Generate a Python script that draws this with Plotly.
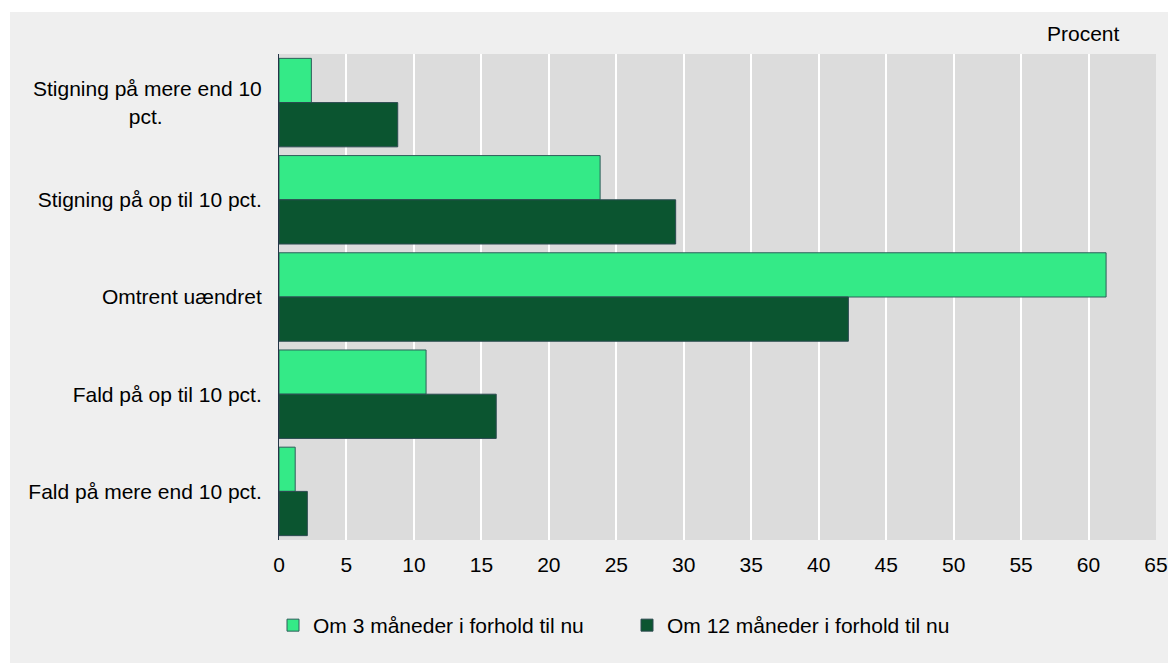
import plotly.graph_objects as go

categories = [
    "Stigning på mere end 10<br>pct." + "\u00a0" * 17,
    "Stigning på op til 10 pct.",
    "Omtrent uændret",
    "Fald på op til 10 pct.",
    "Fald på mere end 10 pct.",
]
series_3m_name = "Om 3 måneder i forhold til nu"
series_12m_name = "Om 12 måneder i forhold til nu"
values_3m = [2.4, 23.8, 61.3, 10.9, 1.2]
values_12m = [8.8, 29.4, 42.2, 16.1, 2.1]
x_ticks = list(range(0, 70, 5))

W, H = 1168, 663
L, T = 279, 54
R = W - 1156
B = H - 540
pw, ph = W - L - R, H - T - B

FONT = dict(family="Liberation Sans, Arial, sans-serif", size=21, color="#000000")

fig = go.Figure()
fig.add_trace(go.Bar(
    y=categories, x=values_3m, orientation="h", name=series_3m_name,
    marker=dict(color="#34EA87", line=dict(color="#2E5E5A", width=1)),
))
fig.add_trace(go.Bar(
    y=categories, x=values_12m, orientation="h", name=series_12m_name,
    marker=dict(color="#0B5530", line=dict(color="#2C4A50", width=1)),
))

def px_x(p):
    return (p - L) / pw

def px_y(p):
    return (H - B - p) / ph

fig.update_layout(
    width=W, height=H,
    margin=dict(l=L, r=R, t=T, b=B, autoexpand=False),
    paper_bgcolor="#FFFFFF",
    plot_bgcolor="rgba(0,0,0,0)",
    barmode="group",
    bargap=0.09,
    bargroupgap=0,
    font=FONT,
    showlegend=True,
    legend=dict(
        orientation="h", x=px_x(273), y=px_y(605), xanchor="left", yanchor="top",
        bgcolor="rgba(0,0,0,0)", font=FONT, itemwidth=30, entrywidth=309,
        traceorder="normal",
    ),
    shapes=[
        dict(type="rect", xref="paper", yref="paper", layer="below",
             x0=px_x(10), x1=px_x(W), y0=px_y(H), y1=px_y(12),
             fillcolor="#EFEFEF", line=dict(width=0)),
        dict(type="rect", xref="paper", yref="paper", layer="below",
             x0=0, x1=1, y0=0, y1=1,
             fillcolor="#DCDCDC", line=dict(width=0)),
    ],
    annotations=[
        dict(text="Procent", xref="paper", yref="paper", x=px_x(1083), y=px_y(33),
             xanchor="center", yanchor="middle", showarrow=False, font=FONT),
    ],
)

fig.update_xaxes(
    range=[0, 65], tickvals=x_ticks, ticktext=[str(v) for v in x_ticks],
    showgrid=True, gridcolor="#FFFFFF", gridwidth=2,
    zeroline=False, showline=False, ticks="", ticklabelstandoff=10,
    tickfont=FONT, fixedrange=True,
)
fig.update_yaxes(
    autorange="reversed", showgrid=False, zeroline=False,
    showline=True, linecolor="#243447", linewidth=1,
    ticks="", ticklabelstandoff=12, tickfont=FONT, fixedrange=True,
)

fig.write_html(
    "out.html",
    config={"displayModeBar": False},
    post_script=(
        "document.body.style.margin='0';"
        "document.body.style.overflow='hidden';"
        "document.documentElement.style.overflow='hidden';"
    ),
)
